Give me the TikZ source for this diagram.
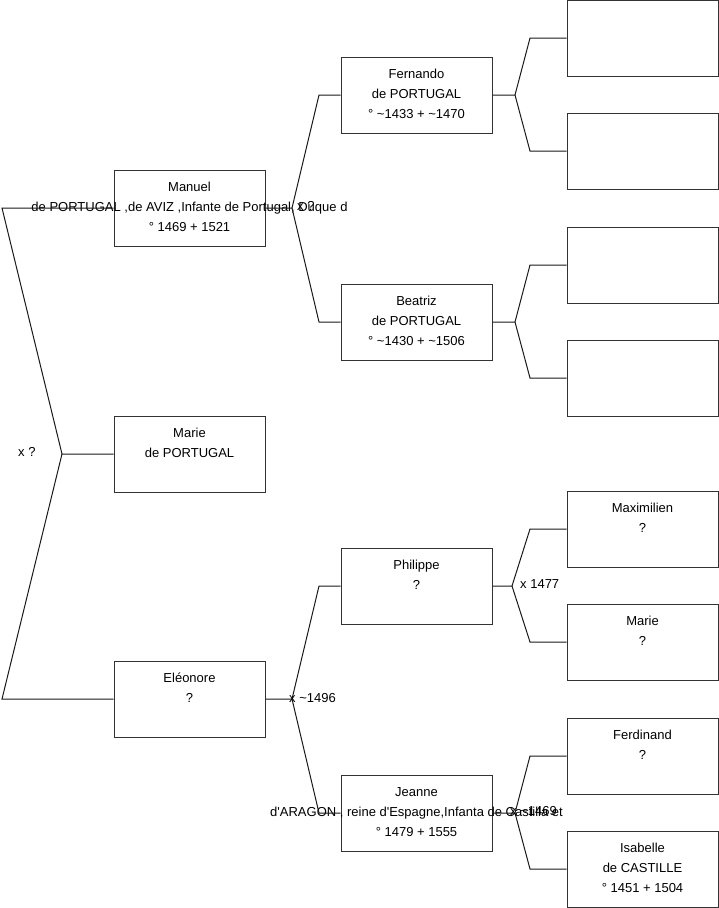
\documentclass[tikz,border=0pt]{standalone}
\usepackage{fontspec}
\setmainfont{Liberation Sans}
\usetikzlibrary{positioning}

\tikzset{
  persona/.style={draw=black!80, line width=1pt, minimum width=151pt, minimum height=76pt, inner sep=0pt},
  nom/.style={align=center, inner sep=0pt, font=\fontsize{13}{20}\selectfont},
  lligam/.style={draw=black!90, line width=1pt},
  boda/.style={anchor=west, inner sep=0pt, font=\fontsize{13}{14}\selectfont}
}
\newcommand{\fila}{\rule{0pt}{10pt}}

\begin{document}
\begin{tikzpicture}[x=1pt, y=-1pt]
    \useasboundingbox (0,0) rectangle (719,908);

    % Caixes
    \node[persona] (manuel) at (189.5,208) {};
    \node[persona] (marie) at (189.5,454) {};
    \node[persona] (eleonore) at (189.5,699) {};
    \node[persona] (fernando) at (416.5,95) {};
    \node[persona] (beatriz) at (416.5,322) {};
    \node[persona] (philippe) at (416.5,586) {};
    \node[persona] (jeanne) at (416.5,813) {};
    \node[persona] (fernandop) at (642.5,38) {};
    \node[persona] (fernandom) at (642.5,151) {};
    \node[persona] (beatrizp) at (642.5,265) {};
    \node[persona] (beatrizm) at (642.5,378) {};
    \node[persona] (maximilien) at (642.5,529) {};
    \node[persona] (mariebg) at (642.5,642) {};
    \node[persona] (ferdinand) at (642.5,756) {};
    \node[persona] (isabelle) at (642.5,869) {};

    % Noms
    \node[nom, below=12pt of manuel.north] (manuel-t) {\fila Manuel\\\makebox[0pt]{de PORTUGAL ,de AVIZ ,Infante de Portugal, Duque d}\\° 1469 + 1521};
    \node[nom, below=12pt of marie.north] (marie-t) {\fila Marie\\de PORTUGAL};
    \node[nom, below=12pt of eleonore.north] (eleonore-t) {\fila Eléonore\\?};
    \node[nom, below=12pt of fernando.north] (fernando-t) {\fila Fernando\\de PORTUGAL\\° \textasciitilde1433 + \textasciitilde1470};
    \node[nom, below=12pt of beatriz.north] (beatriz-t) {\fila Beatriz\\de PORTUGAL\\° \textasciitilde1430 + \textasciitilde1506};
    \node[nom, below=12pt of philippe.north] (philippe-t) {\fila Philippe\\?};
    \node[nom, below=12pt of jeanne.north] (jeanne-t) {\fila Jeanne\\\makebox[0pt]{d\textquotesingle ARAGON , reine d\textquotesingle Espagne,Infanta de Castilla et}\\° 1479 + 1555};
    \node[nom, below=12pt of maximilien.north] (maximilien-t) {\fila Maximilien\\?};
    \node[nom, below=12pt of mariebg.north] (mariebg-t) {\fila Marie\\?};
    \node[nom, below=12pt of ferdinand.north] (ferdinand-t) {\fila Ferdinand\\?};
    \node[nom, below=12pt of isabelle.north] (isabelle-t) {\fila Isabelle\\de CASTILLE\\° 1451 + 1504};

    % Punts de les branques
    \coordinate (r0) at (62,454);
    \coordinate (r1) at (2,208);
    \coordinate (r2) at (2,699);
    \coordinate (m0) at (292,208);
    \coordinate (m1) at (319,95);
    \coordinate (m2) at (319,322);
    \coordinate (e0) at (292,699);
    \coordinate (e1) at (319,586);
    \coordinate (e2) at (319,813);
    \coordinate (f0) at (515,95);
    \coordinate (f1) at (530,38);
    \coordinate (f2) at (530,151);
    \coordinate (b0) at (515,322);
    \coordinate (b1) at (530,265);
    \coordinate (b2) at (530,378);
    \coordinate (p0) at (512,586);
    \coordinate (p1) at (530,529);
    \coordinate (p2) at (530,642);
    \coordinate (j0) at (515,813);
    \coordinate (j1) at (530,756);
    \coordinate (j2) at (530,869);

    % Branques
    \draw[lligam] (marie.west) -- (r0) -- (r1) -- (manuel.west);
    \draw[lligam] (r0) -- (r2) -- (eleonore.west);
    \draw[lligam] (manuel.east) -- (m0) -- (m1) -- (fernando.west);
    \draw[lligam] (m0) -- (m2) -- (beatriz.west);
    \draw[lligam] (eleonore.east) -- (e0) -- (e1) -- (philippe.west);
    \draw[lligam] (e0) -- (e2) -- (jeanne.west);
    \draw[lligam] (fernando.east) -- (f0) -- (f1) -- (fernandop.west);
    \draw[lligam] (f0) -- (f2) -- (fernandom.west);
    \draw[lligam] (beatriz.east) -- (b0) -- (b1) -- (beatrizp.west);
    \draw[lligam] (b0) -- (b2) -- (beatrizm.west);
    \draw[lligam] (philippe.east) -- (p0) -- (p1) -- (maximilien.west);
    \draw[lligam] (p0) -- (p2) -- (mariebg.west);
    \draw[lligam] (jeanne.east) -- (j0) -- (j1) -- (ferdinand.west);
    \draw[lligam] (j0) -- (j2) -- (isabelle.west);

    % Matrimonis
    \node[boda] (boda-r) at (18,452) {x ?};
    \node[boda] (boda-m) at (297,206) {x ?};
    \node[boda] (boda-e) at (289,698) {x \textasciitilde1496};
    \node[boda] (boda-p) at (520,584) {x 1477};
    \node[boda] (boda-j) at (510,811) {x \textasciitilde1469};
\end{tikzpicture}
\end{document}
